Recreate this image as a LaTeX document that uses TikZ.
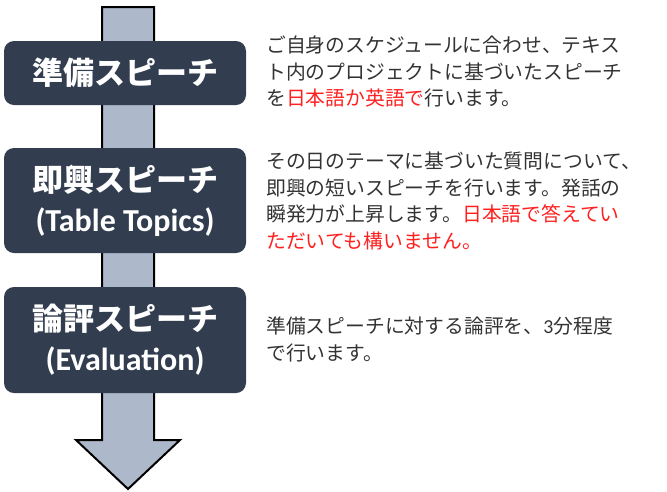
\documentclass[tikz,border=0pt]{standalone}
\usepackage{fontspec}
\newfontfamily\jp{Noto Sans CJK JP}
\newfontfamily\lat{Carlito}
\definecolor{boxfill}{HTML}{323E4F}
\definecolor{arrowfill}{HTML}{ADB9CA}
\definecolor{bodytext}{HTML}{333333}
\definecolor{redtext}{HTML}{FF2020}
\tikzset{
  stagebox/.style={draw=none, fill=boxfill, rounded corners=10pt, minimum width=242pt, text=white, align=center, inner sep=0pt, font=\jp\bfseries\fontsize{31}{40}\selectfont},
  desc/.style={anchor=north west, inner sep=0pt, align=left, text=bodytext, font=\jp\fontsize{19.8}{26.5}\selectfont}
}
\newcommand{\rd}[1]{\textcolor{redtext}{#1}}
\begin{document}
\begin{tikzpicture}[x=1pt,y=-1pt]
\useasboundingbox (0,0) rectangle (667,491);
% big arrow
\draw[line width=2pt, fill=arrowfill, line join=miter]
  (102,7) -- (154,7) -- (154,440) -- (180,440) -- (128,489) -- (76,440) -- (102,440) -- cycle;
% stage boxes
\node[stagebox, minimum height=64pt] (b1) at (125,73) {準備スピーチ};
\node[stagebox, minimum height=105pt] (b2) at (125,200.5) {即興スピーチ\\{\lat\bfseries\fontsize{32}{40}\selectfont (Table Topics)}};
\node[stagebox, minimum height=106pt] (b3) at (125,340) {論評スピーチ\\{\lat\bfseries\fontsize{32}{40}\selectfont (Evaluation)}};
% descriptions
\node[desc] (d1) at (266,36) {ご自身のスケジュールに合わせ、テキス\\ト内のプロジェクトに基づいたスピーチ\\を\rd{日本語か英語で}行います。};
\node[desc] (d2) at (266,152) {その日のテーマに基づいた質問について、\\即興の短いスピーチを行います。発話の\\瞬発力が上昇します。\rd{日本語で答えてい}\\\rd{ただいても構いません。}};
\node[desc] (d3) at (266,317) {準備スピーチに対する論評を、{\lat 3}分程度\\で行います。};
\end{tikzpicture}
\end{document}
